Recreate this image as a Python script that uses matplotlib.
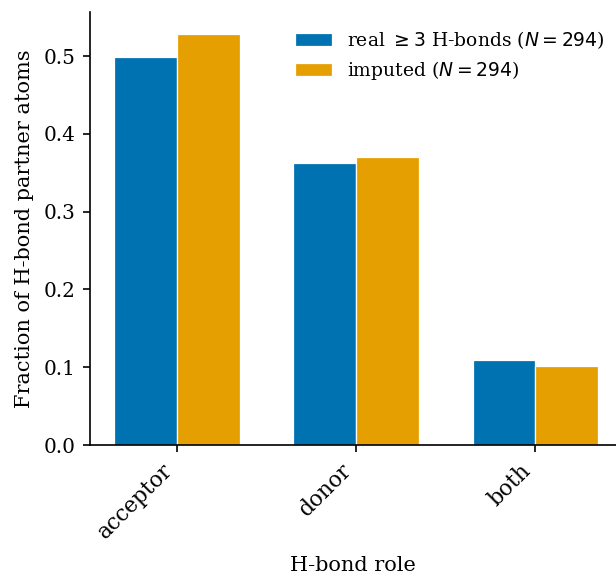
import numpy as np
import matplotlib
matplotlib.use("Agg")
import matplotlib.pyplot as plt

roles = ["acceptor", "donor", "both"]
real_frac = [0.499, 0.362, 0.109]
imputed_frac = [0.528, 0.370, 0.102]
n_real = 294
n_imputed = 294

plt.rcParams["font.family"] = "DejaVu Serif"
plt.rcParams["font.size"] = 9

fig = plt.figure(figsize=(616 / 150, 575 / 150), dpi=150)
ax = fig.add_axes([0.146, 0.226, 0.854, 0.753])

x = np.arange(len(roles))
w = 0.35
ax.bar(x - w / 2, real_frac, w, color="#0072B2", edgecolor="white", linewidth=0.6,
       label=r"real $\geq 3$ H-bonds ($N = %d$)" % n_real)
ax.bar(x + w / 2, imputed_frac, w, color="#E69F00", edgecolor="white", linewidth=0.6,
       label=r"imputed ($N = %d$)" % n_imputed)

ax.set_xticks(x)
ax.set_xticklabels(roles, rotation=45, ha="right")
ax.tick_params(axis="x", labelsize=10.4)
ax.tick_params(axis="y", labelsize=9.6)
ax.set_xlim(-0.486, 2.45)
ax.set_ylim(0, 0.5566)
ax.set_yticks([0.0, 0.1, 0.2, 0.3, 0.4, 0.5])
ax.set_xlabel("H-bond role", fontsize=10, labelpad=6)
ax.set_ylabel("Fraction of H-bond partner atoms", fontsize=10, labelpad=4.5)
ax.spines["top"].set_visible(False)
ax.spines["right"].set_visible(False)
ax.legend(loc="upper right", bbox_to_anchor=(1.01, 1.0), frameon=False, fontsize=9,
          labelspacing=0.45)

fig.savefig("out.png", dpi=150)
